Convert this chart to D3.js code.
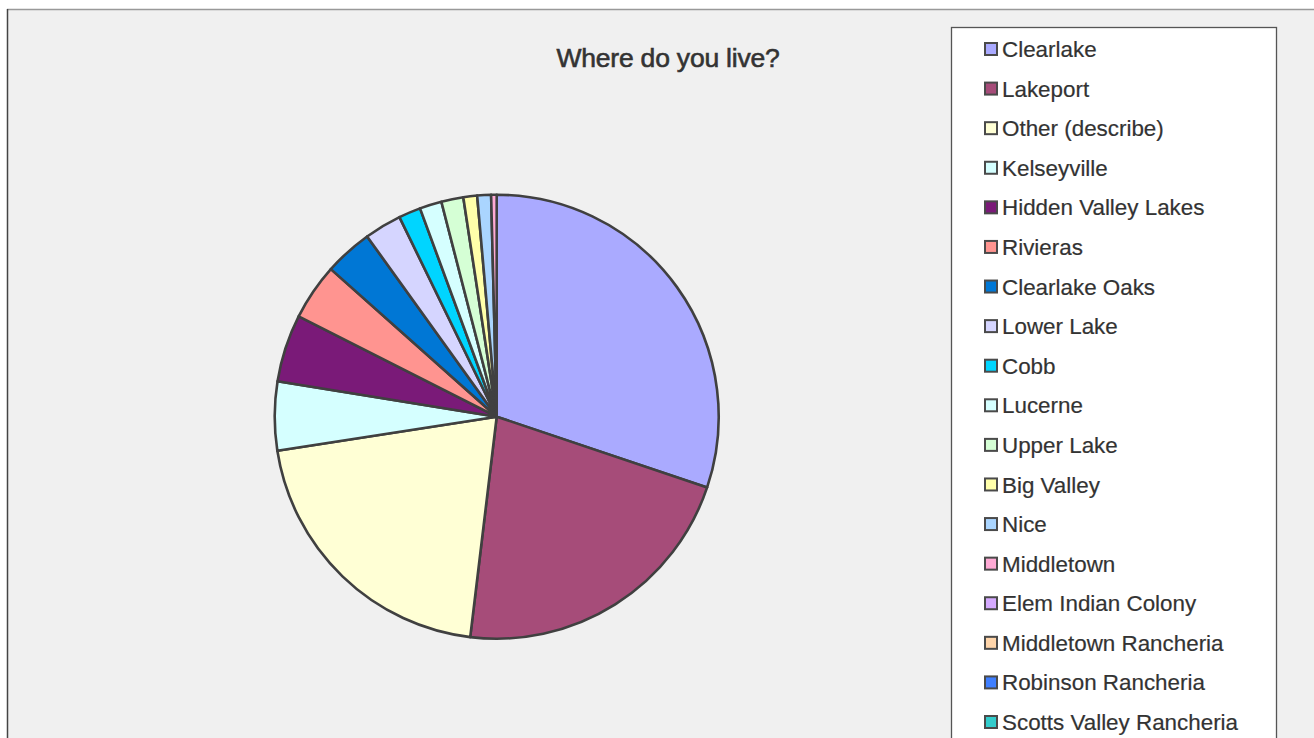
<!DOCTYPE html>
<html>
<head>
<meta charset="utf-8">
<script src="https://cdn.jsdelivr.net/npm/d3@7"></script>
<style>
  html, body { margin: 0; padding: 0; background: #ffffff; }
  svg { display: block; }
</style>
</head>
<body>
<svg id="chart" width="1314" height="738"></svg>
<script>
// ---- data (percent of respondents) ----
const categories = [
  "Clearlake", "Lakeport", "Other (describe)", "Kelseyville", "Hidden Valley Lakes",
  "Rivieras", "Clearlake Oaks", "Lower Lake", "Cobb", "Lucerne", "Upper Lake",
  "Big Valley", "Nice", "Middletown", "Elem Indian Colony", "Middletown Rancheria",
  "Robinson Rancheria", "Scotts Valley Rancheria"
];
const values = [30.1, 21.7, 20.6, 5.0, 4.9, 4.1, 3.5, 2.7, 1.6, 1.6, 1.6, 1.0, 1.0, 0.4, 0, 0, 0, 0];
const colors = [
  "#aaaaff", "#a64c79", "#ffffd5", "#d5ffff", "#7a1a78", "#ff9490", "#0077d5",
  "#d5d5ff", "#00d5ff", "#d5ffff", "#d5ffd5", "#ffffaa", "#aad5ff", "#ffaad5",
  "#d5aaff", "#ffd5aa", "#3f7fff", "#33cccc"
];
const title = "Where do you live?";

// ---- layout ----
const W = 1314, H = 738;
const svg = d3.select("#chart");
const font = "'Liberation Sans', Arial, sans-serif";
const textColor = "#333333";

// chart area background + frame
svg.append("rect").attr("x", 7).attr("y", 9).attr("width", W).attr("height", H)
  .attr("fill", "#f0f0f0");
svg.append("line").attr("x1", 7).attr("x2", W).attr("y1", 9.5).attr("y2", 9.5)
  .attr("stroke", "#999").attr("stroke-width", 1.5);
svg.append("line").attr("x1", 7.5).attr("x2", 7.5).attr("y1", 9).attr("y2", H)
  .attr("stroke", "#444").attr("stroke-width", 1.5);

// title
svg.append("text").attr("x", 668).attr("y", 67)
  .attr("text-anchor", "middle")
  .attr("font-family", font).attr("font-size", 26.5)
  .attr("fill", textColor)
  .attr("stroke", textColor).attr("stroke-width", 0.6)
  .style("letter-spacing", "-0.2px")
  .text(title);

// pie
const cx = 496.7, cy = 416.7, R = 222;
const data = categories.map((c, i) => ({ name: c, value: values[i], color: colors[i] }));
const pie = d3.pie().sort(null).value(d => d.value);
const arc = d3.arc().innerRadius(0).outerRadius(R);
const g = svg.append("g").attr("transform", `translate(${cx},${cy})`);
g.selectAll("path")
  .data(pie(data.filter(d => d.value > 0)))
  .join("path")
  .attr("d", arc)
  .attr("fill", d => d.data.color)
  .attr("stroke", "#404040")
  .attr("stroke-width", 2.6)
  .attr("stroke-linejoin", "round");

// legend
const lx = 951, ly = 27;
svg.append("rect").attr("x", lx + 0.5).attr("y", ly + 0.5)
  .attr("width", 325).attr("height", H)
  .attr("fill", "#ffffff").attr("stroke", "#555").attr("stroke-width", 1.3);

const rowY = d3.scalePoint().domain(categories).range([49, 722]);
const lg = svg.append("g").selectAll("g").data(data).join("g")
  .attr("transform", d => `translate(0,${rowY(d.name)})`);
lg.append("rect")
  .attr("x", 985).attr("y", -6).attr("width", 12).attr("height", 12)
  .attr("fill", d => d.color).attr("stroke", "#4a4a4a").attr("stroke-width", 2);
lg.append("text")
  .attr("x", 1002).attr("y", 0).attr("dy", "0.36em")
  .attr("font-family", font).attr("font-size", 22.4)
  .attr("fill", textColor)
  .attr("stroke", textColor).attr("stroke-width", 0.2)
  .text(d => d.name);
</script>
</body>
</html>
